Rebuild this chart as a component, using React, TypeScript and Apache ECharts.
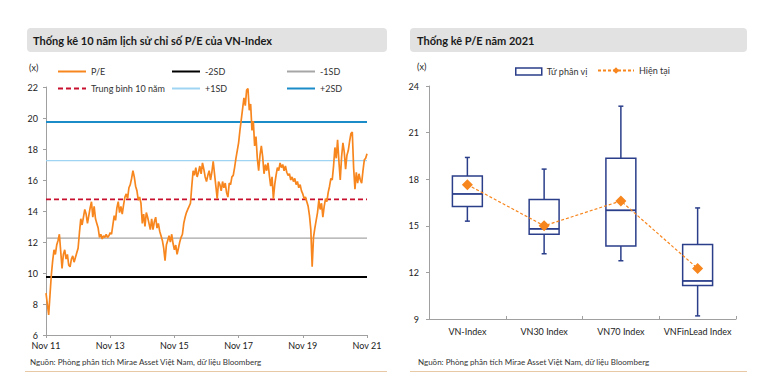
import React, { useEffect, useRef } from "react";
import * as echarts from "echarts";

// ---------- Left chart data: P/E of VN-Index, half-month steps Nov 2011 -> Nov 2021 ----------
const peTickLabels = ["Nov 11", "Nov 13", "Nov 15", "Nov 17", "Nov 19", "Nov 21"];
const peValues: number[] = [
  // 2011-11 .. 2012-10
  8.7, 8.0, 7.3, 8.6, 9.9, 10.8, 11.5, 11.2, 11.8, 12.1, 12.5, 11.4,
  10.3, 11.2, 11.5, 10.9, 11.2, 10.5, 10.4, 10.9, 11.1, 10.7, 11.0, 11.3,
  // 2012-11 .. 2013-10
  11.6, 12.6, 13.5, 13.1, 13.6, 14.1, 13.8, 13.2, 13.7, 14.2, 14.6, 13.6,
  14.3, 13.5, 13.2, 12.9, 12.3, 12.5, 12.2, 12.4, 12.3, 12.5, 12.3, 12.4,
  // 2013-11 .. 2014-10
  12.6, 12.5, 13.1, 13.7, 13.4, 14.2, 14.6, 13.9, 14.3, 13.8, 14.4, 14.9,
  15.1, 14.8, 15.5, 15.7, 16.1, 16.6, 16.2, 15.6, 15.3, 14.7, 14.9, 14.5,
  // 2014-11 .. 2015-10
  13.2, 13.8, 13.0, 13.9, 13.6, 13.2, 12.8, 13.5, 12.8, 13.3, 13.6, 12.9,
  13.2, 12.7, 12.4, 12.1, 11.6, 10.8, 11.8, 12.1, 12.4, 12.0, 12.5, 11.9,
  // 2015-11 .. 2016-10
  11.5, 11.8, 11.2, 11.6, 12.0, 12.3, 12.5, 13.2, 13.6, 13.9, 14.1, 14.3,
  14.5, 15.6, 16.6, 16.3, 16.8, 16.2, 16.5, 16.9, 16.4, 17.1, 16.7, 16.2,
  // 2016-11 .. 2017-10
  15.9, 16.3, 16.6, 16.0, 16.5, 17.2, 16.4, 15.6, 14.8, 15.9, 15.7, 15.3,
  15.9, 15.5, 15.8, 15.2, 14.9, 15.8, 15.7, 16.2, 16.3, 16.8, 17.4, 17.9,
  // 2017-11 .. 2018-10
  18.4, 19.2, 19.9, 20.6, 21.3, 20.8, 21.8, 21.9, 20.5, 20.9, 19.2, 19.8,
  18.2, 18.8, 17.4, 16.6, 17.6, 18.2, 17.5, 16.4, 17.0, 16.6, 17.1, 16.3,
  // 2018-11 .. 2019-10
  15.6, 16.2, 14.8, 15.7, 16.3, 16.8, 16.6, 17.1, 16.8, 17.0, 16.6, 16.9,
  16.5, 16.3, 16.4, 16.0, 16.2, 15.9, 16.1, 15.7, 15.9, 15.5, 15.7, 15.3,
  // 2019-11 .. 2020-10
  15.1, 14.8, 14.9, 14.6, 14.3, 13.7, 12.8, 10.4, 12.3, 12.9, 13.4, 13.9,
  14.7, 14.1, 14.5, 13.6, 14.3, 14.8, 14.6, 15.2, 15.6, 16.1, 16.0, 16.9,
  // 2020-11 .. 2021-10
  18.1, 17.4, 18.6, 17.2, 16.0, 17.5, 18.4, 17.8, 16.7, 17.6, 17.9, 18.5,
  19.0, 19.1, 16.8, 15.4, 16.5, 15.8, 16.4, 16.0, 15.8, 16.6, 17.3, 17.4,
  // 2021-11
  17.7,
];
const peMean = 14.75;
const peMinus1SD = 12.25;
const peMinus2SD = 9.75;
const pePlus1SD = 17.25;
const pePlus2SD = 19.75;

// ---------- Right chart data: 2021 P/E box plot ----------
const boxCategories = ["VN-Index", "VN30 Index", "VN70 Index", "VNFinLead Index"];
const boxMin = [15.3, 13.2, 12.75, 9.2];
const boxQ1 = [16.25, 14.45, 13.7, 11.15];
const boxMedian = [17.05, 14.8, 16.0, 11.45];
const boxQ3 = [18.2, 16.7, 19.35, 13.8];
const boxMax = [19.4, 18.65, 22.7, 16.15];
const currentPE = [17.65, 15.0, 16.6, 12.25];

const FONT = "Lato, 'Open Sans', sans-serif";
const NAVY = "#2b3e8a";
const ORANGE = "#f7861e";

export default function App() {
  const ref = useRef<HTMLDivElement>(null);

  useEffect(() => {
    if (!ref.current) return;
    const chart = echarts.init(ref.current, undefined, { renderer: "svg" });

    const n = peValues.length;
    const lastIdx = n - 1;
    const peData = peValues.map((v, i) => [i, v]);
    const constLine = (v: number) => [
      [0, v],
      [lastIdx, v],
    ];

    const boxData = boxCategories.map((_, i) => [
      i,
      boxMin[i],
      boxQ1[i],
      boxMedian[i],
      boxQ3[i],
      boxMax[i],
    ]);

    const refLine = (name: string, v: number, color: string, width: number, type: any = "solid") => ({
      name,
      type: "line",
      xAxisIndex: 0,
      yAxisIndex: 0,
      data: constLine(v),
      symbol: "none",
      lineStyle: { color, width, type },
      itemStyle: { color },
      z: 2,
    });

    const legendItem = (name: string, left: number, top: number, w = 28) => ({
      data: [name],
      left,
      top,
      itemWidth: w,
      itemHeight: 10,
      itemGap: 4,
      itemStyle: { opacity: 0 },
      textStyle: { fontFamily: FONT, fontSize: 9, color: "#333" },
      selectedMode: false,
    });

    const option: any = {
      animation: false,
      backgroundColor: "#fff",
      textStyle: { fontFamily: FONT },
      legend: [
        legendItem("P/E", 52, 62),
        legendItem("-2SD", 166, 62),
        legendItem("-1SD", 281, 62),
        legendItem("Trung bình 10 năm", 52, 79),
        legendItem("+1SD", 166, 79),
        legendItem("+2SD", 281, 79),
        {
          data: [
            {
              name: "Tứ phân vị",
              icon: "rect",
              itemStyle: { color: "#fff", borderColor: NAVY, borderWidth: 1.5 },
            },
          ],
          left: 510,
          top: 62,
          itemWidth: 26,
          itemHeight: 7,
          textStyle: { fontFamily: FONT, fontSize: 9, color: "#333" },
          selectedMode: false,
        },
        {
          data: ["Hiện tại"],
          left: 592,
          top: 61,
          itemWidth: 36,
          itemHeight: 8,
          textStyle: { fontFamily: FONT, fontSize: 9, color: "#333" },
          selectedMode: false,
        },
      ],
      grid: [
        { left: 46, top: 87, width: 321, height: 248 },
        { left: 429, top: 86, width: 307, height: 233 },
      ],
      xAxis: [
        {
          type: "value",
          gridIndex: 0,
          min: 0,
          max: 240,
          interval: 48,
          axisLine: { lineStyle: { color: "#a0a0a0", width: 1 } },
          axisTick: { show: true, length: 3, lineStyle: { color: "#a0a0a0" } },
          splitLine: { show: false },
          axisLabel: {
            fontFamily: FONT,
            fontSize: 9,
            color: "#222",
            margin: 6,
            formatter: (v: number) => peTickLabels[Math.round(v / 48)] ?? "",
          },
        },
        {
          type: "category",
          gridIndex: 1,
          data: boxCategories,
          boundaryGap: true,
          axisLine: { lineStyle: { color: "#a0a0a0", width: 1 } },
          axisTick: { show: true, inside: true, length: 3, lineStyle: { color: "#a0a0a0" } },
          axisLabel: { fontFamily: FONT, fontSize: 9, color: "#222", margin: 8, interval: 0 },
        },
      ],
      yAxis: [
        {
          type: "value",
          gridIndex: 0,
          min: 6,
          max: 22,
          interval: 2,
          axisLine: { show: true, lineStyle: { color: "#a0a0a0", width: 1 } },
          axisTick: { show: true, length: 3, lineStyle: { color: "#a0a0a0" } },
          splitLine: { show: false },
          axisLabel: { fontFamily: FONT, fontSize: 9, color: "#222", margin: 8 },
        },
        {
          type: "value",
          gridIndex: 1,
          min: 9,
          max: 24,
          interval: 3,
          axisLine: { show: true, lineStyle: { color: "#a0a0a0", width: 1 } },
          axisTick: { show: true, length: 3, lineStyle: { color: "#a0a0a0" } },
          splitLine: { show: false },
          axisLabel: { fontFamily: FONT, fontSize: 9, color: "#222", margin: 10 },
        },
      ],
      series: [
        refLine("-2SD", peMinus2SD, "#000000", 2),
        refLine("-1SD", peMinus1SD, "#a6a6a6", 1.2),
        refLine("Trung bình 10 năm", peMean, "#c8102e", 1.6, [5, 3]),
        refLine("+1SD", pePlus1SD, "#9fd4f2", 1.2),
        refLine("+2SD", pePlus2SD, "#1b8cc8", 2),
        {
          name: "P/E",
          type: "line",
          xAxisIndex: 0,
          yAxisIndex: 0,
          data: peData,
          symbol: "none",
          lineStyle: { color: ORANGE, width: 1.7 },
          itemStyle: { color: ORANGE },
          z: 5,
        },
        {
          name: "Tứ phân vị",
          type: "custom",
          xAxisIndex: 1,
          yAxisIndex: 1,
          data: boxData,
          itemStyle: { color: NAVY },
          encode: { x: 0, y: [1, 2, 3, 4, 5] },
          renderItem: (params: any, api: any) => {
            const idx = api.value(0);
            const pMin = api.coord([idx, api.value(1)]);
            const pQ1 = api.coord([idx, api.value(2)]);
            const pMed = api.coord([idx, api.value(3)]);
            const pQ3 = api.coord([idx, api.value(4)]);
            const pMax = api.coord([idx, api.value(5)]);
            const bw = api.size([1, 0])[0] * 0.39;
            const cx = pMed[0];
            const cap = 2.5;
            const ls = { stroke: NAVY, lineWidth: 1.5, fill: "none" };
            return {
              type: "group",
              children: [
                { type: "line", shape: { x1: cx, y1: pMax[1], x2: cx, y2: pQ3[1] }, style: ls },
                { type: "line", shape: { x1: cx - cap, y1: pMax[1], x2: cx + cap, y2: pMax[1] }, style: ls },
                { type: "line", shape: { x1: cx, y1: pQ1[1], x2: cx, y2: pMin[1] }, style: ls },
                { type: "line", shape: { x1: cx - cap, y1: pMin[1], x2: cx + cap, y2: pMin[1] }, style: ls },
                {
                  type: "rect",
                  shape: { x: cx - bw / 2, y: pQ3[1], width: bw, height: pQ1[1] - pQ3[1] },
                  style: { stroke: NAVY, lineWidth: 1.5, fill: "#fff" },
                },
                {
                  type: "line",
                  shape: { x1: cx - bw / 2, y1: pMed[1], x2: cx + bw / 2, y2: pMed[1] },
                  style: { stroke: NAVY, lineWidth: 1.8 },
                },
              ],
            };
          },
          z: 2,
        },
        {
          name: "Hiện tại",
          type: "line",
          xAxisIndex: 1,
          yAxisIndex: 1,
          data: currentPE,
          symbol: "diamond",
          symbolSize: 11,
          lineStyle: { color: ORANGE, width: 1.2, type: [3, 2] },
          itemStyle: { color: ORANGE },
          z: 5,
        },
      ],
      graphic: [
        {
          type: "rect",
          shape: { x: 27, y: 28, width: 360, height: 24, r: 4 },
          style: { fill: "#e2e2e2" },
          z: -1,
        },
        {
          type: "text",
          x: 33,
          y: 40,
          style: {
            text: "Thống kê 10 năm lịch sử chỉ số P/E của VN-Index",
            font: `bold 11px ${FONT}`,
            fill: "#1a1a1a",
            verticalAlign: "middle",
          },
        },
        {
          type: "rect",
          shape: { x: 410, y: 28, width: 337, height: 24, r: 4 },
          style: { fill: "#e2e2e2" },
          z: -1,
        },
        {
          type: "text",
          x: 417,
          y: 40,
          style: {
            text: "Thống kê P/E năm 2021",
            font: `bold 11px ${FONT}`,
            fill: "#1a1a1a",
            verticalAlign: "middle",
          },
        },
        {
          type: "text",
          x: 29,
          y: 67,
          style: { text: "(x)", font: `9px ${FONT}`, fill: "#222", verticalAlign: "middle" },
        },
        {
          type: "text",
          x: 417,
          y: 66,
          style: { text: "(x)", font: `9px ${FONT}`, fill: "#222", verticalAlign: "middle" },
        },
        {
          type: "text",
          x: 30,
          y: 362,
          style: {
            text: "Nguồn: Phòng phân tích Mirae Asset Việt Nam, dữ liệu Bloomberg",
            font: `8px ${FONT}`,
            fill: "#333",
            verticalAlign: "middle",
          },
        },
        {
          type: "text",
          x: 418,
          y: 362,
          style: {
            text: "Nguồn: Phòng phân tích Mirae Asset Việt Nam, dữ liệu Bloomberg",
            font: `8px ${FONT}`,
            fill: "#333",
            verticalAlign: "middle",
          },
        },
        {
          type: "line",
          shape: { x1: 25, y1: 371.5, x2: 387, y2: 371.5 },
          style: { stroke: "#e8c9a6", lineWidth: 1 },
        },
        {
          type: "line",
          shape: { x1: 410, y1: 371.5, x2: 747, y2: 371.5 },
          style: { stroke: "#e8c9a6", lineWidth: 1 },
        },
      ],
    };

    chart.setOption(option);
    return () => chart.dispose();
  }, []);

  return <div ref={ref} style={{ width: 765, height: 373, position: "absolute", left: 0, top: 0 }} />;
}
